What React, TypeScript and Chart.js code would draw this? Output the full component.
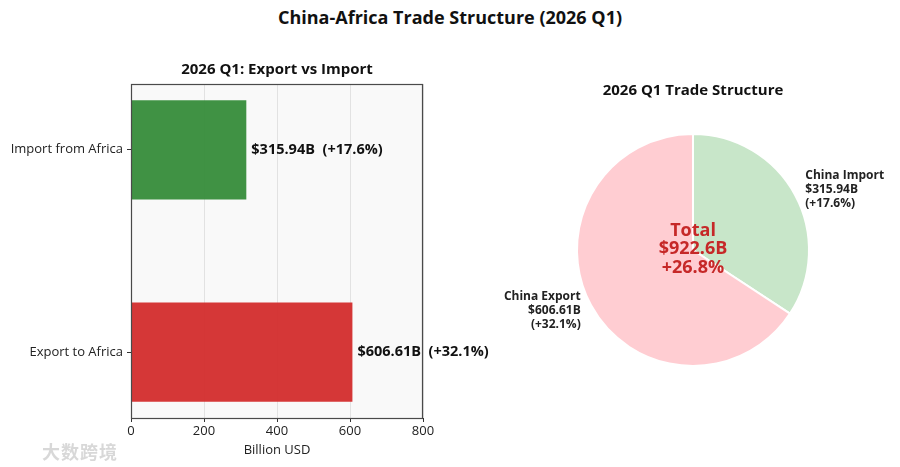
import { useEffect, useRef } from 'react'
import { Chart, registerables, type Plugin } from 'chart.js'

Chart.register(...registerables)

const FONT = '"Open Sans", "Noto Sans", sans-serif'

// bar subplot
const categories = ['Export to Africa', 'Import from Africa']
const values = [606.61, 315.94]
const growth = ['+32.1%', '+17.6%']
const barColors = ['rgba(211, 47, 47, 0.96)', 'rgba(56, 142, 60, 0.96)']
const xTicks = [0, 200, 400, 600, 800]

// pie subplot
const pieLabels = ['China Import', 'China Export']
const pieValues = [315.94, 606.61]
const pieGrowth = ['+17.6%', '+32.1%']
const pieColors = ['#c8e6c9', '#ffcdd2']
const totalLines = ['Total', '$922.6B', '+26.8%']

const fmt = (v: number) => `$${v.toFixed(2)}B`

function subplotTitle(text: string, gap: number): Plugin {
  return {
    id: 'subTitle',
    afterDraw(chart) {
      const { ctx, chartArea } = chart
      ctx.save()
      ctx.font = `bold 15px ${FONT}`
      ctx.fillStyle = '#111'
      ctx.textAlign = 'center'
      ctx.textBaseline = 'middle'
      ctx.fillText(text, (chartArea.left + chartArea.right) / 2, chartArea.top - gap)
      ctx.restore()
    },
  }
}

const frame: Plugin = {
  id: 'frame',
  beforeDraw(chart) {
    const { ctx, chartArea } = chart
    ctx.save()
    ctx.fillStyle = '#f9f9f9'
    ctx.fillRect(chartArea.left, chartArea.top, chartArea.width, chartArea.height)
    ctx.restore()
  },
  afterDraw(chart) {
    const { ctx, chartArea } = chart
    ctx.save()
    ctx.strokeStyle = '#4a4a4a'
    ctx.lineWidth = 1.2
    ctx.strokeRect(chartArea.left + 0.5, chartArea.top + 0.5, chartArea.width - 1, chartArea.height)
    ctx.restore()
  },
}

const barValueLabels: Plugin<'bar'> = {
  id: 'barValues',
  afterDatasetsDraw(chart) {
    const meta = chart.getDatasetMeta(0)
    const { ctx } = chart
    ctx.save()
    ctx.font = `bold 14.5px ${FONT}`
    ctx.fillStyle = '#111'
    ctx.textAlign = 'left'
    ctx.textBaseline = 'middle'
    meta.data.forEach((bar, i) => {
      ctx.fillText(`${fmt(values[i])}  (${growth[i]})`, bar.x + 5, bar.y)
    })
    ctx.restore()
  },
}

const pieSliceLabels: Plugin<'pie'> = {
  id: 'pieLabels',
  afterDatasetsDraw(chart) {
    const meta = chart.getDatasetMeta(0)
    const { ctx } = chart
    ctx.save()
    ctx.font = `bold 12px ${FONT}`
    ctx.fillStyle = '#222'
    ctx.textBaseline = 'middle'
    meta.data.forEach((el, i) => {
      const arc = el as unknown as { x: number; y: number; startAngle: number; endAngle: number; outerRadius: number }
      const mid = (arc.startAngle + arc.endAngle) / 2
      const lx = arc.x + Math.cos(mid) * arc.outerRadius * 1.1
      const ly = arc.y + Math.sin(mid) * arc.outerRadius * 1.1
      ctx.textAlign = Math.cos(mid) >= 0 ? 'left' : 'right'
      const lines = [pieLabels[i], fmt(pieValues[i]), `(${pieGrowth[i]})`]
      lines.forEach((line, j) => ctx.fillText(line, lx, ly + (j - 1) * 14))
    })

    const first = meta.data[0] as unknown as { x: number; y: number }
    ctx.font = `bold 18px ${FONT}`
    ctx.fillStyle = '#c62828'
    ctx.textAlign = 'center'
    totalLines.forEach((line, j) => ctx.fillText(line, first.x, first.y - 1 + (j - 1) * 18.5))
    ctx.restore()
  },
}

function BarPanel() {
  const canvasRef = useRef<HTMLCanvasElement>(null)
  useEffect(() => {
    const canvas = canvasRef.current
    if (!canvas) return
    const chart = new Chart(canvas, {
      type: 'bar',
      data: {
        datasets: [
          {
            data: values.map((v, i) => ({ x: v, y: i })),
            backgroundColor: barColors,
            borderWidth: 0,
            categoryPercentage: 1,
            barPercentage: 0.49,
          },
        ],
      },
      options: {
        indexAxis: 'y',
        animation: false,
        responsive: false,
        layout: { padding: { top: 44, right: 97, left: 0, bottom: 0 } },
        plugins: { legend: { display: false }, tooltip: { enabled: false } },
        scales: {
          x: {
            type: 'linear',
            min: 0,
            max: 800,
            offset: false,
            afterBuildTicks: (s) => {
              s.ticks = xTicks.map((value) => ({ value }))
            },
            afterFit: (s) => {
              s.height = 43
            },
            ticks: { color: '#222', font: { size: 13, family: FONT }, padding: 1 },
            grid: { color: '#e2e2e2', tickColor: '#333', tickLength: 4, offset: false },
            border: { display: false },
            title: {
              display: true,
              text: 'Billion USD',
              color: '#222',
              font: { size: 13, family: FONT },
              padding: { top: 0, bottom: 3 },
            },
          },
          y: {
            type: 'linear',
            min: -0.325,
            max: 1.325,
            offset: false,
            afterBuildTicks: (s) => {
              s.ticks = categories.map((_, i) => ({ value: i }))
            },
            afterFit: (s) => {
              s.width = 131
            },
            ticks: {
              color: '#222',
              font: { size: 13, family: FONT },
              padding: 4,
              callback: (v) => categories[Number(v)] ?? '',
            },
            grid: { drawOnChartArea: false, tickColor: '#333', tickLength: 4, offset: false },
            border: { display: false },
          },
        },
      },
      plugins: [frame, barValueLabels, subplotTitle('2026 Q1: Export vs Import', 14)],
    })
    return () => chart.destroy()
  }, [])
  return <canvas ref={canvasRef} width={520} height={421} style={{ position: 'absolute', left: 0, top: 40 }} />
}

function PiePanel() {
  const canvasRef = useRef<HTMLCanvasElement>(null)
  useEffect(() => {
    const canvas = canvasRef.current
    if (!canvas) return
    const chart = new Chart(canvas, {
      type: 'pie',
      data: {
        labels: pieLabels,
        datasets: [{ data: pieValues, backgroundColor: pieColors, borderColor: '#ffffff', borderWidth: 2 }],
      },
      options: {
        animation: false,
        responsive: false,
        layout: { padding: { left: 106, right: 90, top: 93, bottom: 100 } },
        plugins: { legend: { display: false }, tooltip: { enabled: false } },
      },
      plugins: [pieSliceLabels, subplotTitle('2026 Q1 Trade Structure', 42)],
    })
    return () => chart.destroy()
  }, [])
  return <canvas ref={canvasRef} width={430} height={427} style={{ position: 'absolute', left: 470, top: 40 }} />
}

export default function App() {
  return (
    <div style={{ position: 'fixed', left: 0, top: 0, width: 900, height: 467, background: '#fff', overflow: 'hidden' }}>
      <div
        style={{
          position: 'absolute',
          left: 0,
          top: 5,
          width: 900,
          textAlign: 'center',
          font: `bold 18px ${FONT}`,
          color: '#111',
        }}
      >
        China-Africa Trade Structure (2026 Q1)
      </div>
      <BarPanel />
      <PiePanel />
      <div
        style={{
          position: 'absolute',
          left: 42,
          top: 438,
          font: 'bold 18px "Noto Sans CJK SC", sans-serif',
          color: 'rgba(200, 200, 200, 0.7)',
          letterSpacing: 1,
        }}
      >
        大数跨境
      </div>
    </div>
  )
}
